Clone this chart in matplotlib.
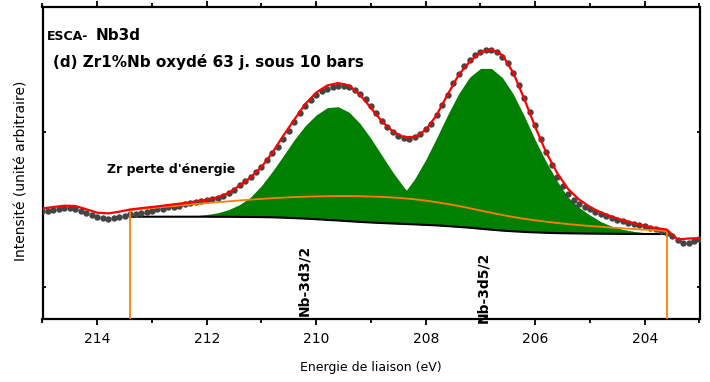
import numpy as np
import matplotlib
matplotlib.use('Agg')
import matplotlib.pyplot as plt
from matplotlib.ticker import MultipleLocator

# Nb 3d XPS spectrum, binding energy from 215 to 203 eV (0.1 eV step), arbitrary units
counts = [
    108.5, 108.0, 109.0, 110.5, 111.5, 111.0, 110.0, 108.5, 106.0, 104.0,
    102.5, 101.0, 100.5, 101.5, 102.5, 103.5, 105.0, 105.5, 106.5, 107.5,
    108.5, 110.0, 110.5, 112.0, 112.5, 113.5, 115.0, 116.0, 117.0, 118.0,
    119.0, 120.5, 121.5, 123.5, 126.0, 129.5, 134.0, 138.0, 142.0, 147.0,
    152.5, 159.0, 166.0, 172.0, 180.0, 188.0, 197.5, 206.0, 213.0, 219.0,
    224.0, 228.0, 230.5, 232.0, 233.0, 233.0, 232.0, 229.5, 225.5, 220.0,
    213.5, 206.0, 198.5, 192.0, 187.0, 183.5, 181.0, 180.5, 182.0, 185.5,
    190.0, 195.5, 204.0, 214.0, 224.5, 236.0, 245.5, 253.0, 259.5, 264.0,
    267.0, 269.0, 269.5, 267.0, 262.5, 256.0, 246.0, 234.0, 221.0, 207.5,
    194.0, 180.5, 167.0, 154.0, 142.5, 133.0, 125.5, 119.5, 115.5, 112.5,
    110.0, 107.5, 105.0, 103.0, 101.0, 99.5, 98.0, 96.5, 95.5, 94.0,
    93.0, 91.5, 90.0, 88.5, 86.5, 83.0, 79.5, 76.5, 76.5, 78.5,
    80.0,
]

# fitted envelope, 215 -> 203 eV every 0.2 eV
fit_total = [
    110.5, 112.0, 113.3, 113.0, 109.7, 106.3, 105.6, 107.3, 109.5, 110.8,
    112.0, 113.3, 114.7, 116.0, 117.6, 119.3, 121.7, 126.0, 133.5, 141.5,
    152.0, 166.5, 183.5, 199.5, 215.0, 226.5, 233.5, 236.0, 233.5, 224.0,
    211.0, 197.5, 187.5, 181.7, 182.0, 189.0, 204.0, 224.5, 244.0, 257.3,
    266.8, 269.5, 264.0, 246.0, 220.0, 192.0, 166.5, 146.0, 130.0, 119.5,
    112.0, 106.5, 102.3, 98.8, 95.8, 93.0, 91.0, 89.5, 79.5, 80.5,
    80.8,
]

# fit components, 213.4 -> 203.6 eV every 0.2 eV
background = [
    102.3, 102.3, 102.3, 102.3, 102.3, 102.3, 102.3, 102.3, 102.2, 102.2,
    102.1, 102.0, 101.9, 101.7, 101.3, 100.9, 100.4, 99.8, 99.1, 98.5,
    97.8, 97.1, 96.5, 96.0, 95.5, 95.1, 94.6, 94.1, 93.6, 92.9,
    92.1, 91.3, 90.3, 89.3, 88.4, 87.7, 87.1, 86.6, 86.2, 85.9,
    85.7, 85.5, 85.4, 85.3, 85.2, 85.1, 85.1, 85.0, 85.0, 85.0,
]
zr_loss = [
    109.0, 110.0, 111.0, 112.0, 113.0, 114.0, 115.0, 115.9, 116.8, 117.7,
    118.6, 119.4, 120.1, 120.8, 121.4, 121.9, 122.3, 122.6, 122.8, 122.9,
    122.9, 122.8, 122.5, 122.1, 121.5, 120.7, 119.7, 118.4, 116.8, 115.0,
    113.0, 110.8, 108.5, 106.2, 104.0, 102.0, 100.2, 98.7, 97.3, 96.0,
    94.9, 93.9, 93.0, 92.2, 91.4, 90.7, 90.0, 89.3, 88.7, 88.0,
]
nb_3d32 = [
    0.0, 0.0, 0.03, 0.09, 0.21, 0.47, 1.0, 2.1, 4.0, 7.2,
    12.3, 19.9, 31.5, 46.0, 62.0, 78.5, 93.0, 104.3, 112.2, 113.8,
    109.0, 98.4, 83.9, 67.5, 51.2, 36.7, 24.8, 15.8, 9.5, 5.4,
    2.9, 1.5, 0.7, 0.3, 0.1, 0.0, 0.0, 0.0, 0.0, 0.0,
    0.0, 0.0, 0.0, 0.0, 0.0, 0.0, 0.0, 0.0, 0.0, 0.0,
]
nb_3d52 = [
    0.0, 0.0, 0.0, 0.0, 0.0, 0.0, 0.0, 0.0, 0.0, 0.0,
    0.0, 0.0, 0.0, 0.0, 0.0, 0.02, 0.05, 0.14, 0.33, 0.75,
    1.6, 3.3, 6.2, 11.2, 18.9, 30.3, 45.7, 65.2, 87.6, 111.2,
    133.1, 150.4, 160.3, 161.3, 153.0, 137.1, 115.8, 92.3, 71.0, 52.0,
    36.0, 26.0, 18.5, 12.0, 7.5, 4.5, 2.5, 1.3, 0.6, 0.3,
]

peak_labels = ['Nb-3d3/2', 'Nb-3d5/2']
peak_label_pos = [(210.22, 3), (206.95, -4)]

e_data = np.linspace(215.0, 203.0, len(counts))
e_fit = np.linspace(215.0, 203.0, len(fit_total))
e_comp = np.linspace(213.4, 203.6, len(background))

bg = np.array(background)
loss = np.array(zr_loss)

fig = plt.figure(figsize=(7.1, 3.82), dpi=100)
ax = fig.add_axes([42.5 / 710, 1 - 319 / 382, 657 / 710, 312 / 382])

green = '#007f00'
orange = '#ff8000'

ax.fill_between(e_comp, bg, bg + np.array(nb_3d32), color=green, lw=0, zorder=1)
ax.fill_between(e_comp, bg, bg + np.array(nb_3d52), color=green, lw=0, zorder=1)
ax.plot(e_comp, bg, color='black', lw=1.5, zorder=2)
ax.plot(e_data, counts, 'o', color='#444444', ms=4.6, mec='none', zorder=3)
ax.plot(e_comp, loss, color=orange, lw=1.3, zorder=4)
# edges of the loss window drop to the axis
ax.vlines([e_comp[0], e_comp[-1]], 0, [loss[0], loss[-1]], color=orange, lw=1.3, zorder=4)
ax.plot(e_fit, fit_total, color='red', lw=1.6, zorder=5)

ax.set_xlim(215, 203)
ax.set_ylim(0, 312)
ax.xaxis.set_major_locator(MultipleLocator(2))
ax.xaxis.set_minor_locator(MultipleLocator(1))
ax.set_yticks([32, 187])
ax.set_yticklabels([])

for s in ax.spines.values():
    s.set_linewidth(1.6)
ax.tick_params(axis='x', which='major', direction='out', length=4.3, width=1.3,
               labelsize=10, pad=5, top=True)
ax.tick_params(axis='x', which='minor', direction='out', length=2.8, width=1.3, top=True)
ax.tick_params(axis='y', which='major', direction='in', length=2, width=1.3, right=True)

ax.text(214.925, 279, 'ESCA-', fontsize=9, fontweight='bold')
ax.text(214.03, 279, 'Nb3d', fontsize=11, fontweight='bold')
ax.text(214.80, 252.5, '(d) Zr1%Nb oxydé 63 j. sous 10 bars', fontsize=11, fontweight='bold')
ax.text(213.83, 146, "Zr perte d'énergie", fontsize=9, fontweight='bold')

for label, (x, y) in zip(peak_labels, peak_label_pos):
    ax.text(x, y, label, rotation=90, ha='center', va='bottom', fontsize=10,
            fontweight='bold', clip_on=False, zorder=6)

fig.text(22 / 710, 1 - 171 / 382, 'Intensité (unité arbitraire)', rotation=90,
         ha='center', va='center', fontsize=10)
fig.text(371 / 710, 1 - 368 / 382, 'Energie de liaison (eV)', ha='center', va='center', fontsize=9)

fig.savefig('out.png', dpi=100)
